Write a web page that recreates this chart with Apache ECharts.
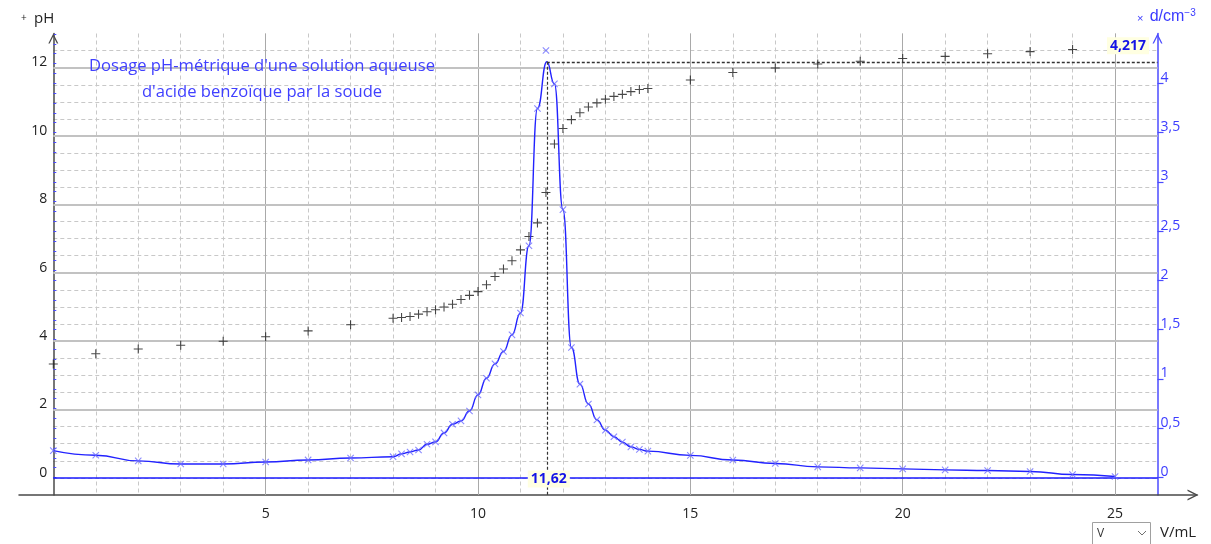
<!DOCTYPE html>
<html>
<head>
<meta charset="utf-8">
<script src="https://cdn.jsdelivr.net/npm/echarts@6/dist/echarts.min.js"></script>
<style>
html,body{margin:0;padding:0;background:#fff;}
#chart{width:1211px;height:544px;}
</style>
</head>
<body>
<div id="chart"></div>
<script>
// ---- data ----
const volumePH = [0,1,2,3,4,5,6,7,8,
  8.2,8.4,8.6,8.8,9.0,9.2,9.4,9.6,9.8,10.0,
  10.2,10.4,10.6,10.8,11.0,11.2,11.4,11.6,11.8,12.0,
  12.2,12.4,12.6,12.8,13.0,13.2,13.4,13.6,13.8,14.0,
  15,16,17,18,19,20,21,22,23,24];
const pH = [3.33,3.63,3.77,3.88,4.00,4.13,4.30,4.48,4.67,
  4.69,4.72,4.79,4.86,4.92,5.00,5.08,5.22,5.34,5.45,
  5.65,5.89,6.11,6.35,6.67,7.06,7.46,8.35,9.77,10.22,
  10.48,10.68,10.85,10.97,11.08,11.16,11.22,11.30,11.36,11.39,
  11.64,11.86,11.99,12.11,12.19,12.27,12.33,12.41,12.47,12.53];

const volumeD = [0,1,2,3,4,5,6,7,8,
  8.2,8.4,8.6,8.8,9.0,9.2,9.4,9.6,9.8,10.0,
  10.2,10.4,10.6,10.8,11.0,11.2,11.4,11.6,11.8,12.0,
  12.2,12.4,12.6,12.8,13.0,13.2,13.4,13.6,13.8,14.0,
  15,16,17,18,19,20,21,22,23,24,25];
const dValues = [0.272,0.225,0.168,0.137,0.137,0.157,0.178,0.198,0.211,
  0.239,0.259,0.279,0.337,0.361,0.452,0.540,0.574,0.675,0.838,
  1.007,1.153,1.278,1.447,1.668,2.351,3.743,4.332,3.993,2.717,
  1.318,0.947,0.746,0.584,0.480,0.413,0.359,0.311,0.285,0.267,
  0.224,0.177,0.142,0.108,0.097,0.087,0.077,0.071,0.061,0.030,0.010];

// smoothed curve drawn by the software (peak at 11.62 ; 4.217)
const volumeCurve = [0,1,2,3,4,5,6,7,8,
  8.2,8.4,8.6,8.8,9.0,9.2,9.4,9.6,9.8,10.0,
  10.2,10.4,10.6,10.8,11.0,11.2,11.4,11.62,11.8,12.0,
  12.2,12.4,12.6,12.8,13.0,13.2,13.4,13.6,13.8,14.0,
  15,16,17,18,19,20,21,22,23,24,25];
const dCurve = [0.272,0.225,0.168,0.137,0.137,0.157,0.178,0.198,0.211,
  0.239,0.259,0.279,0.337,0.361,0.452,0.540,0.574,0.675,0.838,
  1.007,1.153,1.278,1.447,1.668,2.351,3.743,4.217,3.993,2.717,
  1.318,0.947,0.746,0.584,0.480,0.413,0.359,0.311,0.285,0.267,
  0.224,0.177,0.142,0.108,0.097,0.087,0.077,0.071,0.061,0.030,0.010];

const peakV = 11.62;
const peakD = 4.217;

const xTickLabels = [5,10,15,20,25];
const pHTickLabels = [0,2,4,6,8,10,12];
const dTickLabels = [0,0.5,1,1.5,2,2.5,3,3.5,4];

const titleLines = ["Dosage pH-métrique d'une solution aqueuse", "d'acide benzoïque par la soude"];

// ---- chart ----
const FONT = "'Open Sans', 'Noto Sans', sans-serif";
const D_MIN = -0.1777, D_MAX = 4.504;
const dMinorTicks = [];
for (let i = 0; i <= 45; i++) dMinorTicks.push(+(i * 0.1).toFixed(1));

const chevron = 'path://M0,10 L5,0 L10,10 L8.6,10 L5,2.8 L1.4,10 Z';
const plusPath = 'path://M4.4,0 L5.6,0 L5.6,4.4 L10,4.4 L10,5.6 L5.6,5.6 L5.6,10 L4.4,10 L4.4,5.6 L0,5.6 L0,4.4 L4.4,4.4 Z';
const near = (arr, v) => arr.some(t => Math.abs(t - v) < 1e-6);

const chart = echarts.init(document.getElementById('chart'), null, {renderer: 'canvas'});

const option = {
  animation: false,
  backgroundColor: '#ffffff',
  textStyle: {fontFamily: FONT},
  grid: [
    {left: 53.3, right: 53.5, top: 33.5, bottom: 49, containLabel: false},
    {left: 19, right: 14, top: 33.5, bottom: 49, containLabel: false}
  ],
  xAxis: [
    {
      type: 'value', gridIndex: 0, min: 0, max: 26, interval: 1,
      axisLine: {show: false}, axisTick: {show: false},
      axisLabel: {
        color: '#222', fontSize: 14, fontFamily: FONT, margin: 12,
        formatter: v => near(xTickLabels, v) ? String(v) : ''
      },
      splitLine: {show: true, showMinLine: false, showMaxLine: false,
        lineStyle: {color: '#c8c8c8', type: [4, 3], width: 1}}
    },
    {
      type: 'value', gridIndex: 1, min: 0, max: 1,
      axisLine: {show: true, onZero: false, lineStyle: {color: '#4a4a4a', width: 1.5},
        symbol: ['none', chevron], symbolSize: [13, 11], symbolOffset: [0, -4]},
      axisTick: {show: false}, axisLabel: {show: false}, splitLine: {show: false}
    }
  ],
  yAxis: [
    {
      type: 'value', gridIndex: 0, position: 'left', min: -0.5, max: 13, interval: 0.5,
      axisLine: {show: true, onZero: false, lineStyle: {color: '#4a4a4a', width: 1.5},
        symbol: ['none', chevron], symbolSize: [10, 12], symbolOffset: [0, -5]},
      axisTick: {show: false},
      axisLabel: {
        color: '#222', fontSize: 14, fontFamily: FONT, margin: 6,
        verticalAlign: 'bottom', lineHeight: 10.5,
        formatter: v => near(pHTickLabels, v) ? String(v) : ''
      },
      splitLine: {show: true, showMinLine: false, showMaxLine: false,
        lineStyle: {color: '#c8c8c8', type: [4, 3], width: 1}}
    },
    {
      type: 'value', gridIndex: 0, position: 'right', min: D_MIN, max: D_MAX,
      axisLine: {show: true, onZero: false, lineStyle: {color: '#4b4bff', width: 1.5},
        symbol: ['none', chevron], symbolSize: [10, 12], symbolOffset: [0, -5]},
      axisTick: {show: true, inside: false, length: 6, customValues: dTickLabels,
        lineStyle: {color: '#4b4bff', width: 1.2}},
      axisLabel: {
        customValues: dTickLabels,
        color: '#3c3cff', fontSize: 14, fontFamily: FONT, margin: 3,
        verticalAlign: 'bottom', lineHeight: 11,
        formatter: v => String(v).replace('.', ',')
      },
      splitLine: {show: false}
    },
    {
      type: 'value', gridIndex: 0, position: 'right', min: D_MIN, max: D_MAX,
      axisLine: {show: false},
      axisTick: {show: true, inside: false, length: 3, customValues: dMinorTicks,
        lineStyle: {color: '#4b4bff', width: 1}},
      axisLabel: {show: false},
      splitLine: {show: false}
    },
    {type: 'value', gridIndex: 1, min: 0, max: 1, show: false}
  ],
  series: [
    {
      // major grid lines
      name: 'grid', type: 'line', xAxisIndex: 0, yAxisIndex: 0, z: 1,
      data: [[0, -1]], symbol: 'none', lineStyle: {opacity: 0}, silent: true,
      markLine: {
        silent: true, symbol: ['none', 'none'], label: {show: false}, z: 1,
        data: [
          ...xTickLabels.map(v => ({xAxis: v, lineStyle: {color: '#a9a9a9', width: 1, type: 'solid'}})),
          ...pHTickLabels.filter(v => v !== 0).map(v => ({yAxis: v, lineStyle: {color: '#c2c2c2', width: 2, type: 'solid'}}))
        ]
      }
    },
    {
      name: 'pH', type: 'scatter', xAxisIndex: 0, yAxisIndex: 0, z: 3,
      symbol: plusPath, symbolSize: 9,
      itemStyle: {color: '#1a1a1a'},
      data: volumePH.map((v, i) => [v, pH[i]])
    },
    {
      name: 'd curve', type: 'line', xAxisIndex: 0, yAxisIndex: 1, z: 4,
      smooth: 0.5, smoothMonotone: 'x', showSymbol: false, symbol: 'none',
      lineStyle: {color: '#2222ff', width: 1.4},
      data: volumeCurve.map((v, i) => [v, dCurve[i]]),
      markLine: {
        silent: true, symbol: ['none', 'none'], label: {show: false}, z: 5,
        data: [
          [{yAxis: 0, x: '4.4%', lineStyle: {color: '#1a1aff', width: 1.6, type: 'solid'}}, {yAxis: 0, x: '95.6%'}],
          [{coord: [peakV, peakD], lineStyle: {color: '#333', width: 1.3, type: [3, 2]}}, {coord: [26, peakD]}],
          [{coord: [peakV, peakD], lineStyle: {color: '#333', width: 1.2, type: [3, 2]}}, {coord: [peakV, D_MIN]}]
        ]
      },
      markPoint: {
        silent: true, symbol: 'rect', symbolSize: 0,
        label: {
          show: true, position: 'inside', color: '#1414e6', fontWeight: 'bold', fontSize: 14,
          fontFamily: FONT, backgroundColor: '#ffffe1', padding: [2, 3, 1, 3]
        },
        data: [
          {coord: [peakV, 0], value: '11,62', label: {formatter: '11,62', offset: [2, 1.5]}},
          {coord: [26, peakD], value: '4,217', label: {formatter: '4,217', offset: [-29.5, -16]}}
        ]
      }
    },
    {
      name: 'd', type: 'scatter', xAxisIndex: 0, yAxisIndex: 1, z: 5,
      symbol: plusPath, symbolRotate: 45, symbolSize: 9,
      itemStyle: {color: '#6d6dff'},
      data: volumeD.map((v, i) => [v, dValues[i]])
    }
  ],
  graphic: [
    {type: 'text', z: 100, left: 21, top: 13, style: {text: '+', fontSize: 10, fill: '#222', fontFamily: FONT}},
    {type: 'text', z: 100, left: 34, top: 11, style: {text: 'pH', fontSize: 15, fill: '#222', fontFamily: FONT}},
    {type: 'text', z: 100, left: 1137, top: 8, style: {
      text: '{s|×}  {m|d/cm}{e|−3}', fill: '#3a3aff', fontFamily: FONT,
      rich: {s: {fontSize: 11, fill: '#3a3aff', verticalAlign: 'bottom', padding: [0, 0, 2, 0]},
             m: {fontSize: 16, fill: '#3a3aff'},
             e: {fontSize: 10, fill: '#3a3aff', verticalAlign: 'top', padding: [0, 0, 8, 0]}}
    }},
    {type: 'text', z: 100, x: 262, y: 66, style: {text: titleLines[0], fontSize: 16.6, fill: '#4040ff',
      fontFamily: FONT, align: 'center', verticalAlign: 'middle'}},
    {type: 'text', z: 100, x: 262, y: 92, style: {text: titleLines[1], fontSize: 16.6, fill: '#4040ff',
      fontFamily: FONT, align: 'center', verticalAlign: 'middle'}},
    {type: 'rect', z: 100, shape: {x: 1092.5, y: 522.5, width: 58, height: 30},
      style: {fill: '#fff', stroke: '#a0a0a0', lineWidth: 1}},
    {type: 'text', z: 101, x: 1097, y: 534, style: {text: 'V', fontSize: 12, fill: '#333', fontFamily: FONT, verticalAlign: 'middle'}},
    {type: 'polyline', z: 101, shape: {points: [[1138, 531], [1142, 535], [1146, 531]]},
      style: {stroke: '#707070', lineWidth: 1, fill: null}},
    {type: 'text', z: 100, x: 1160, y: 533, style: {text: 'V/mL', fontSize: 15, fill: '#222', fontFamily: FONT, verticalAlign: 'middle'}}
  ]
};
chart.setOption(option);
</script>
</body>
</html>
